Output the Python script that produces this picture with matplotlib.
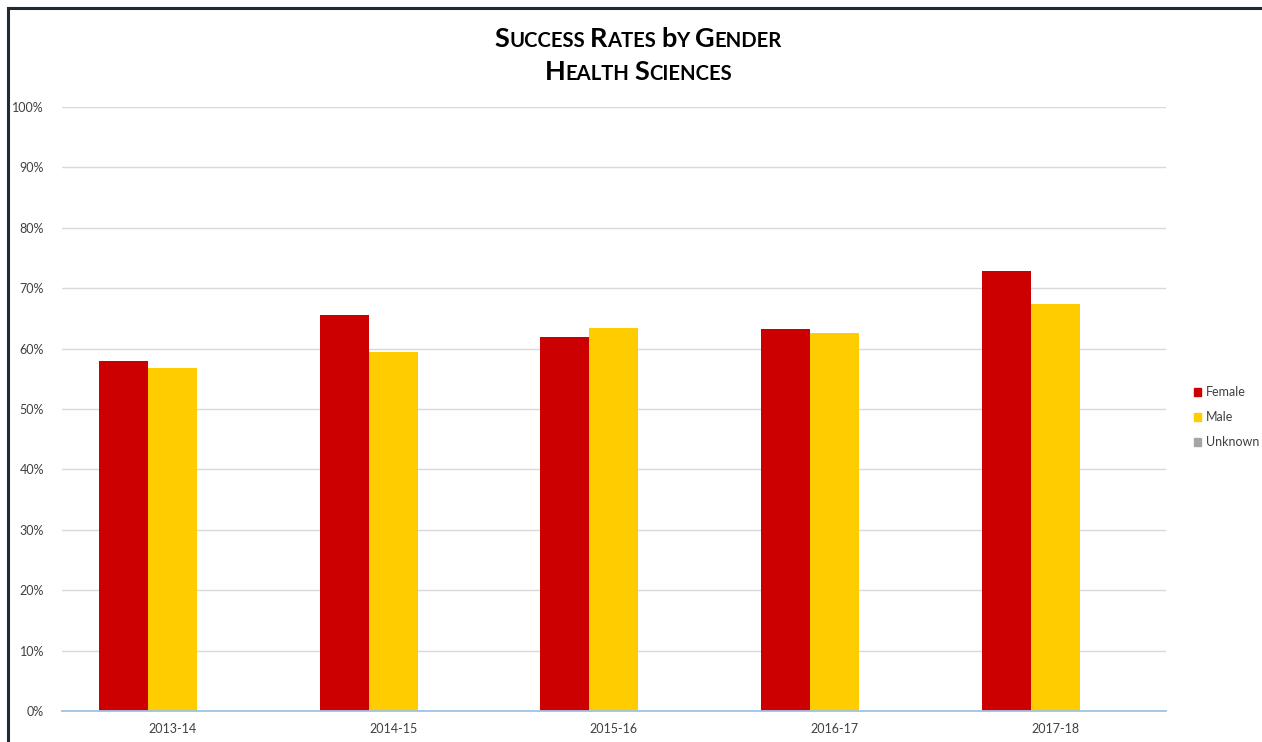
import numpy as np
from matplotlib import pyplot as plt
from matplotlib import transforms
from matplotlib.lines import Line2D
from matplotlib.patches import Patch

plt.rcParams['font.family'] = ['Lato', 'DejaVu Sans']

years = ['2013-14', '2014-15', '2015-16', '2016-17', '2017-18']
female = [0.579, 0.656, 0.619, 0.633, 0.729]
male = [0.568, 0.594, 0.634, 0.626, 0.674]
unknown = [0, 0, 0, 0, 0]

series = [('Female', female, '#cc0000'),
          ('Male', male, '#ffcc00'),
          ('Unknown', unknown, '#a5a5a5')]

#------------------------------------------------------------------------------#
def small_caps(fig, words, y, big=18, small=13.5, center=638):
    # draw small caps text centered at pixel x = center
    pieces = []
    for i, w in enumerate(words):
        if i > 0:
            pieces.append((' ', small))
        pieces.append((w[0], big))
        if len(w) > 1:
            pieces.append((w[1:].upper(), small))
    renderer = fig.canvas.get_renderer()
    texts = []
    t = fig.transFigure
    for s, size in pieces:
        txt = fig.text(0, y, s, fontsize=size, fontweight='bold',
                       color='black', transform=t, va='baseline')
        txt.draw(renderer)
        ex = txt.get_window_extent(renderer)
        t = transforms.offset_copy(txt.get_transform(), x=ex.width, units='dots')
        texts.append(txt)
    x0 = texts[0].get_window_extent(renderer).x0
    x1 = texts[-1].get_window_extent(renderer).x1
    shift = center - (x0 + x1) / 2.0
    for txt in texts:
        txt.set_transform(transforms.offset_copy(txt.get_transform(), fig=fig,
                                                 x=shift, units='dots'))


#------------------------------------------------------------------------------#
fig = plt.figure(figsize=(12.62, 7.42), dpi=100)
ax = fig.add_axes([0.0491, 0.0418, 0.8748, 0.814])

ind = np.arange(len(years))
width = 0.222
for k, (name, vals, col) in enumerate(series):
    ax.bar(ind + (k - 1) * width, vals, width, color=col, label=name)

ax.set_xlim(-0.5, len(years) - 0.5)
ax.set_ylim(0, 1)
ax.set_yticks(np.arange(0, 1.01, 0.1))
ax.set_yticklabels(['%d%%' % round(v * 100) for v in np.arange(0, 1.01, 0.1)])
ax.set_xticks(ind)
ax.set_xticklabels(years)

ax.grid(axis='y', color='#d9d9d9', linewidth=1)
ax.set_axisbelow(True)
for s in ['top', 'right', 'left']:
    ax.spines[s].set_visible(False)
ax.spines['bottom'].set_color('#9dc3e6')
ax.spines['bottom'].set_linewidth(1.3)
ax.tick_params(axis='both', length=0, labelsize=9, labelcolor='#404040')
ax.tick_params(axis='y', pad=13)
ax.tick_params(axis='x', pad=9)

handles = [Patch(color=c) for _, _, c in series]
fig.legend(handles, [n for n, _, _ in series], loc='center left',
           bbox_to_anchor=(0.937, 0.4376), frameon=False, fontsize=9,
           handlelength=0.6, handleheight=0.6, handletextpad=0.4,
           labelspacing=1.05, labelcolor='#404040')

# border of the chart area
fig.add_artist(Line2D([0.0065, 0.0065], [0, 0.989], transform=fig.transFigure,
                      color='#1f2a33', linewidth=2.2))
fig.add_artist(Line2D([0.0065, 1], [0.989, 0.989], transform=fig.transFigure,
                      color='#1f2a33', linewidth=2.2))

small_caps(fig, ['Success', 'Rates', 'by', 'Gender'], 0.937, big=19.5, small=14.6)
small_caps(fig, ['Health', 'Sciences'], 0.892, big=19.5, small=14.6)

fig.savefig('out.png', dpi=100)
